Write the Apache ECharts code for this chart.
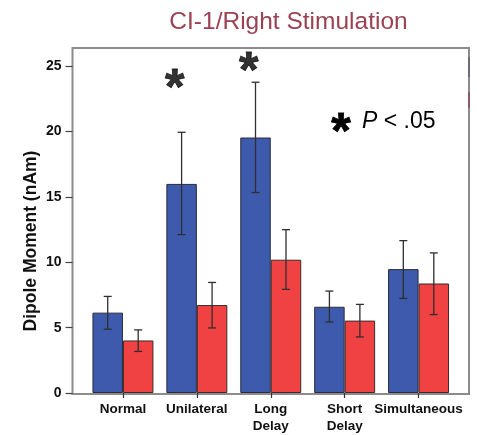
<!DOCTYPE html>
<html><head><meta charset="utf-8">
<script src="https://cdn.jsdelivr.net/npm/echarts@6/dist/echarts.min.js"></script>
<style>html,body{margin:0;padding:0;background:#fff}#c{width:477px;height:435px}</style>
</head><body><div id="c"></div><script>
const categories = ['Normal', 'Unilateral', 'Long\nDelay', 'Short\nDelay', 'Simultaneous'];
const blueValues = [6.15, 16.0, 19.55, 6.6, 9.48];
const blueLow = [4.88, 12.12, 15.34, 5.43, 7.24];
const blueHigh = [7.39, 19.95, 23.78, 7.8, 11.66];
const redValues = [4.02, 6.73, 10.2, 5.54, 8.38];
const redLow = [3.18, 4.98, 7.93, 4.29, 6.0];
const redHigh = [4.83, 8.46, 12.5, 6.78, 10.72];
const starCategoryIndex = [1, 2];
const starY = [23.9, 25.2];
const titleText = 'CI-1/Right Stimulation';
const yAxisTitle = 'Dipole Moment (nAm)';

const FONT = '"Liberation Sans", Arial, Helvetica, sans-serif';
const GAP = 0.175;
const chart = echarts.init(document.getElementById('c'), null, {renderer: 'canvas'});

function errData(lo, hi) { return lo.map((l, i) => [i, l, hi[i]]); }
function errRender(side) {
  return function (params, api) {
    const idx = api.value(0);
    const band = api.size([1, 0])[0];
    const bw = band * (1 - GAP) / 2;
    const cx = api.coord([idx, 0])[0] + side * bw / 2;
    const yl = api.coord([idx, api.value(1)])[1];
    const yh = api.coord([idx, api.value(2)])[1];
    const st = {stroke: '#2f2f2f', lineWidth: 1.3};
    const cap = 4;
    return {type: 'group', children: [
      {type: 'line', shape: {x1: cx, y1: yl, x2: cx, y2: yh}, style: st},
      {type: 'line', shape: {x1: cx - cap, y1: yh, x2: cx + cap, y2: yh}, style: st},
      {type: 'line', shape: {x1: cx - cap, y1: yl, x2: cx + cap, y2: yl}, style: st}
    ]};
  };
}

chart.setOption({
  animation: false,
  backgroundColor: '#fff',
  grid: {left: 86, right: 21.5, top: 48, bottom: 41},
  xAxis: {
    type: 'category', data: categories,
    axisLine: {show: false},
    axisTick: {show: true, alignWithLabel: true, length: 5, lineStyle: {color: '#333', width: 1.2}},
    axisLabel: {color: '#111', fontFamily: FONT, fontWeight: 'bold', fontSize: 13.5, margin: 8, lineHeight: 17, interval: 0}
  },
  yAxis: {
    type: 'value', min: 0, max: 26.4, interval: 5, offset: 13.5,
    axisLine: {show: false},
    axisTick: {show: true, length: 7, lineStyle: {color: '#444', width: 1.2}},
    axisLabel: {color: '#111', fontFamily: FONT, fontWeight: 'bold', fontSize: 14, margin: 11,
      showMaxLabel: false},
    splitLine: {show: false}
  },
  series: [
    {type: 'bar', data: blueValues, barGap: '0%', barCategoryGap: (GAP * 100) + '%',
      itemStyle: {color: '#3e5aad', borderColor: '#2b2b3a', borderWidth: 1}},
    {type: 'bar', data: redValues,
      itemStyle: {color: '#f04242', borderColor: '#3a2b2b', borderWidth: 1}},
    {type: 'custom', data: errData(blueLow, blueHigh), renderItem: errRender(-1), z: 5},
    {type: 'custom', data: errData(redLow, redHigh), renderItem: errRender(1), z: 5},
    {type: 'scatter', data: starCategoryIndex.map((c, i) => [c, starY[i]]),
      symbol: 'circle', symbolSize: 1, itemStyle: {color: 'rgba(0,0,0,0)'}, z: 6,
      label: {show: true, formatter: '*', position: 'inside', offset: [-22, 10],
        color: '#000', fontFamily: FONT, fontWeight: 'bold', fontSize: 50,
        textBorderColor: '#000', textBorderWidth: 0.8}}
  ],
  graphic: [
    {type: 'rect', shape: {x: 72.5, y: 48, width: 396.5, height: 346}, z: 0,
      style: {fill: 'none', stroke: '#8c8c8c', lineWidth: 2}},
    {type: 'line', shape: {x1: 469, y1: 57, x2: 469, y2: 77}, style: {stroke: '#6a6a78', lineWidth: 2}},
    {type: 'line', shape: {x1: 469, y1: 92, x2: 469, y2: 108}, style: {stroke: '#8a5a66', lineWidth: 2}},
    {type: 'text', x: 288.5, y: 22, style: {text: titleText, align: 'center', verticalAlign: 'middle',
      font: '24.5px ' + FONT, fill: '#9b4152'}},
    {type: 'text', x: 31, y: 241, rotation: Math.PI / 2, style: {text: yAxisTitle, align: 'center',
      verticalAlign: 'middle', font: 'bold 17.5px ' + FONT, fill: '#111'}},
    {type: 'text', x: 341, y: 134, style: {text: '*', align: 'center', verticalAlign: 'middle',
      font: 'bold 50px ' + FONT, fill: '#000', stroke: '#000', lineWidth: 0.8}},
    {type: 'text', x: 362, y: 122, style: {text: '{p|P} < .05', align: 'left', verticalAlign: 'middle',
      font: '23px ' + FONT, fill: '#000',
      rich: {p: {fontStyle: 'italic', fontSize: 23, fontFamily: FONT, fill: '#000'}}}}
  ]
});
</script></body></html>
